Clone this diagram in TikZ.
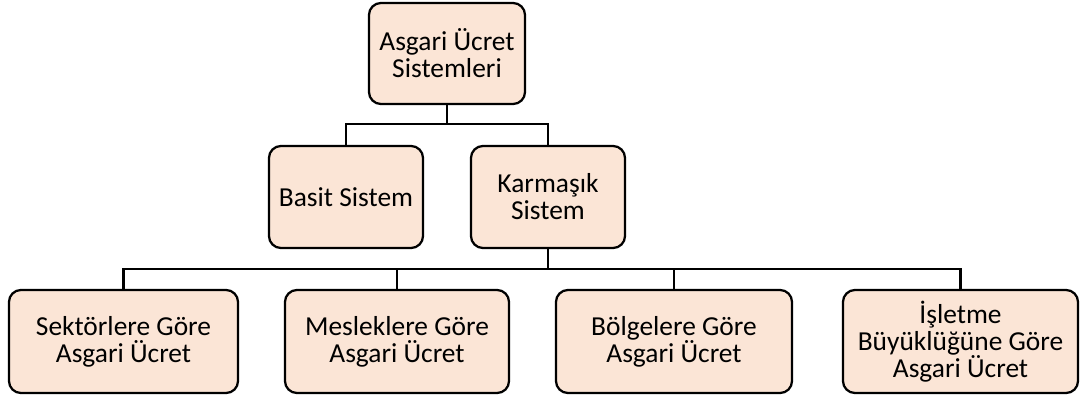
\documentclass[tikz,border=0pt]{standalone}
\usepackage{fontspec}
\setmainfont{Carlito}
\definecolor{kutudolgu}{HTML}{FBE5D6}
\begin{document}
\begin{tikzpicture}[x=0.025cm, y=-0.025cm,
    kutu/.style={draw=black, line width=1.6pt, fill=kutudolgu, rounded corners=0.3cm,
        align=center, inner sep=2pt, font=\fontsize{19.5}{19.3}\selectfont},
    hat/.style={draw=black, line width=1.6pt}]
    \useasboundingbox (0,0) rectangle (1081,396);

    \node[kutu, minimum width=3.9cm, minimum height=2.525cm] (sistemler) at (447,53.5) {Asgari Ücret\\Sistemleri};

    \node[kutu, minimum width=3.85cm, minimum height=2.55cm] (basit) at (346,197) {Basit Sistem};
    \node[kutu, minimum width=3.85cm, minimum height=2.55cm] (karmasik) at (548,197) {Karmaşık\\Sistem};

    \node[kutu, minimum width=5.725cm, minimum height=2.575cm] (sektor) at (123.5,341.5) {Sektörlere Göre\\Asgari Ücret};
    \node[kutu, minimum width=5.6cm, minimum height=2.575cm] (meslek) at (397,341.5) {Mesleklere Göre\\Asgari Ücret};
    \node[kutu, minimum width=5.9cm, minimum height=2.575cm] (bolge) at (674,341.5) {Bölgelere Göre\\Asgari Ücret};
    \node[kutu, minimum width=5.875cm, minimum height=2.575cm] (isletme) at (960.5,341.5) {İşletme\\Büyüklüğüne Göre\\Asgari Ücret};

    \coordinate (ayrim1) at (447,124);
    \coordinate (ayrim2) at (548,269);

    \draw[hat] (sistemler.south) -- (ayrim1);
    \draw[hat] (ayrim1) -| (basit.north);
    \draw[hat] (ayrim1) -| (karmasik.north);

    \draw[hat] (karmasik.south) -- (ayrim2);
    \draw[hat] (ayrim2) -| (sektor.north);
    \draw[hat] (ayrim2) -| (meslek.north);
    \draw[hat] (ayrim2) -| (bolge.north);
    \draw[hat] (ayrim2) -| (isletme.north);
\end{tikzpicture}
\end{document}
